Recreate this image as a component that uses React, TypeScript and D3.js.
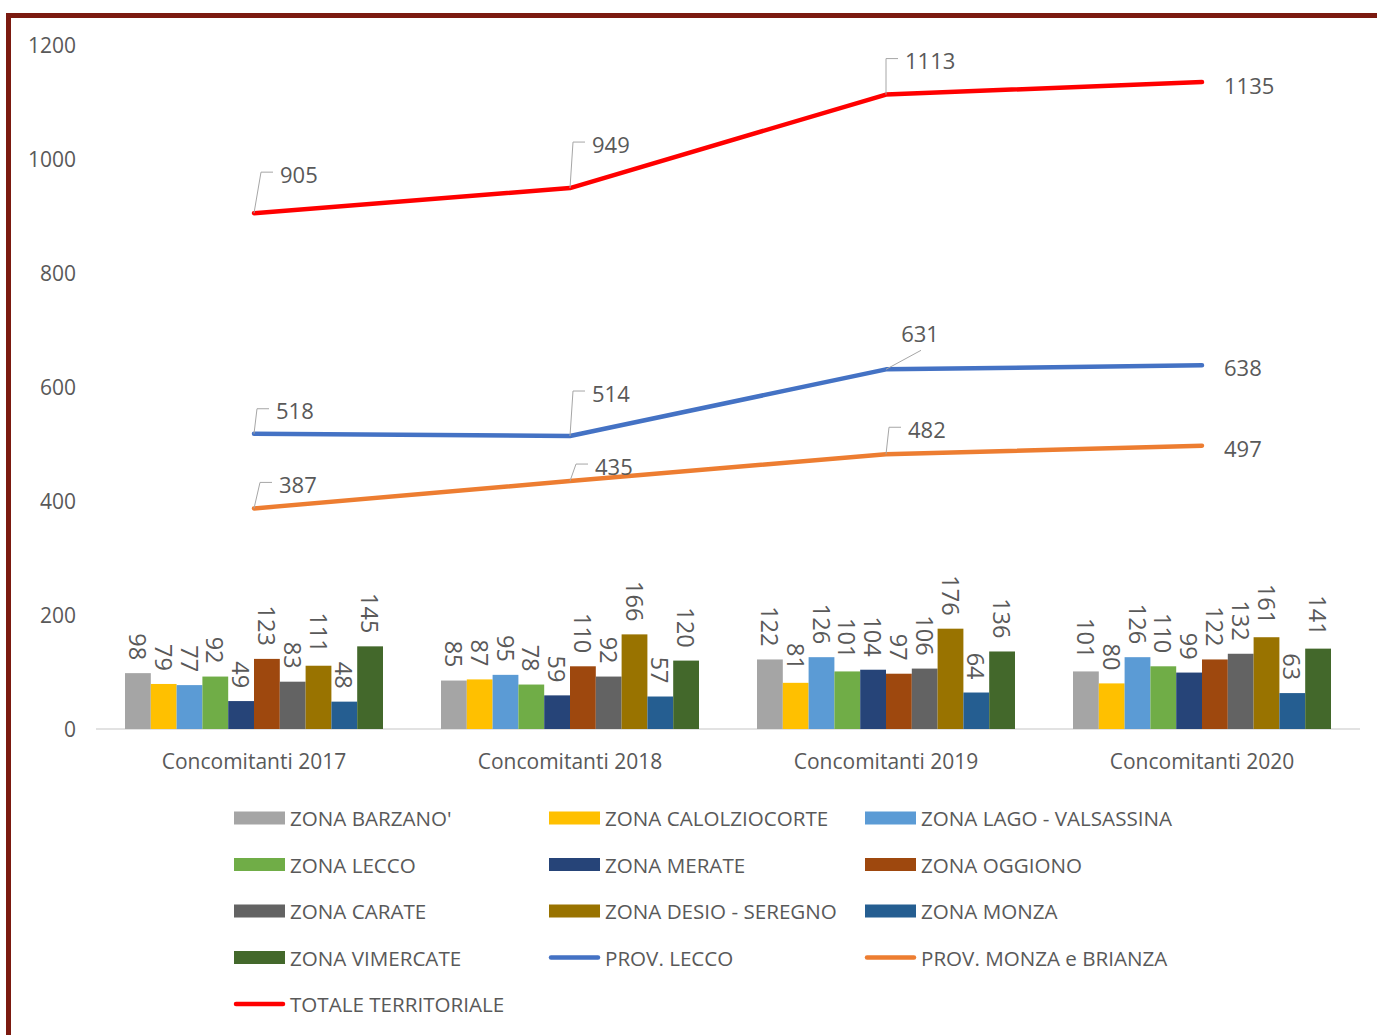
import * as d3 from "d3";

const categories = ["Concomitanti 2017", "Concomitanti 2018", "Concomitanti 2019", "Concomitanti 2020"];
const yTicks = [0, 200, 400, 600, 800, 1000, 1200];

// bar series (one array per zone)
const zonaBarzano = [98, 85, 122, 101];
const zonaCalolziocorte = [79, 87, 81, 80];
const zonaLago = [77, 95, 126, 126];
const zonaLecco = [92, 78, 101, 110];
const zonaMerate = [49, 59, 104, 99];
const zonaOggiono = [123, 110, 97, 122];
const zonaCarate = [83, 92, 106, 132];
const zonaDesio = [111, 166, 176, 161];
const zonaMonza = [48, 57, 64, 63];
const zonaVimercate = [145, 120, 136, 141];

// line series
const provLecco = [518, 514, 631, 638];
const provMonza = [387, 435, 482, 497];
const totale = [905, 949, 1113, 1135];

const zones = [
  { name: "ZONA BARZANO'", color: "#A5A5A5", values: zonaBarzano },
  { name: "ZONA CALOLZIOCORTE", color: "#FFC000", values: zonaCalolziocorte },
  { name: "ZONA LAGO - VALSASSINA", color: "#5B9BD5", values: zonaLago },
  { name: "ZONA LECCO", color: "#70AD47", values: zonaLecco },
  { name: "ZONA MERATE", color: "#264478", values: zonaMerate },
  { name: "ZONA OGGIONO", color: "#9E480E", values: zonaOggiono },
  { name: "ZONA CARATE", color: "#636363", values: zonaCarate },
  { name: "ZONA DESIO - SEREGNO", color: "#997300", values: zonaDesio },
  { name: "ZONA MONZA", color: "#255E91", values: zonaMonza },
  { name: "ZONA VIMERCATE", color: "#43682B", values: zonaVimercate },
];

// label placement per point: leader bracket (dx,dy), diagonal, or side
const lines = [
  {
    name: "PROV. LECCO", color: "#4472C4", values: provLecco,
    labels: [
      { kind: "bracket", dx: 3, dy: -25 },
      { kind: "bracket", dx: 3, dy: -45 },
      { kind: "diag", dx: 35, dy: -19 },
      { kind: "side", dx: 22, dy: 2 },
    ],
  },
  {
    name: "PROV. MONZA e BRIANZA", color: "#ED7D31", values: provMonza,
    labels: [
      { kind: "bracket", dx: 6, dy: -26 },
      { kind: "bracket", dx: 6, dy: -17 },
      { kind: "bracket", dx: 3, dy: -27 },
      { kind: "side", dx: 22, dy: 2 },
    ],
  },
  {
    name: "TOTALE TERRITORIALE", color: "#FF0000", values: totale,
    labels: [
      { kind: "bracket", dx: 7, dy: -41 },
      { kind: "bracket", dx: 3, dy: -46 },
      { kind: "bracket", dx: 0, dy: -36 },
      { kind: "side", dx: 22, dy: 3 },
    ],
  },
];

const W = 1377;
const H = 1035;
const FONT = "'Open Sans', sans-serif";
const TXT = "#595959";

export default function App() {
  const x = d3.scaleBand().domain(categories).range([96, 1360]);
  const inner = d3
    .scaleBand()
    .domain(zones.map((z) => z.name))
    .range([(x.bandwidth() - 258) / 2, (x.bandwidth() + 258) / 2]);
  const y = d3.scaleLinear().domain([0, 1200]).range([729, 45]);
  const cx = (c: string) => (x(c) ?? 0) + x.bandwidth() / 2;

  const lineGen = d3
    .line<number>()
    .x((_, i) => cx(categories[i]))
    .y((d) => y(d));

  const legendItems = [
    ...zones.map((z) => ({ name: z.name, color: z.color, type: "bar" })),
    ...lines.map((l) => ({ name: l.name, color: l.color, type: "line" })),
  ];
  const legendCols = [234, 549, 865];
  const legendRow0 = 818;
  const legendRowStep = 46.5;

  return (
    <div style={{ position: "absolute", left: 0, top: 0 }}>
      <svg width={W} height={H} style={{ display: "block", background: "#fff" }}>
        <rect x={8.5} y={15.5} width={W + 20} height={H + 20} fill="none" stroke="#7B1A10" strokeWidth={5} />

        {/* y axis labels */}
        {yTicks.map((t) => (
          <text key={t} x={76} y={y(t)} textAnchor="end" dominantBaseline="central"
            fontFamily={FONT} fontSize={21} fill={TXT}>
            {t}
          </text>
        ))}

        <line x1={96} x2={1360} y1={y(0)} y2={y(0)} stroke="#D9D9D9" strokeWidth={1.5} />

        {/* bars */}
        {categories.map((c, ci) => (
          <g key={c} transform={`translate(${x(c)},0)`}>
            {zones.map((z) => {
              const v = z.values[ci];
              const bx = inner(z.name) ?? 0;
              const bw = inner.bandwidth();
              return (
                <g key={z.name}>
                  <rect x={bx} y={y(v)} width={bw} height={y(0) - y(v)} fill={z.color} />
                  <text
                    transform={`translate(${bx + bw / 2},${y(v) - 13}) rotate(90)`}
                    textAnchor="end" dominantBaseline="central"
                    fontFamily={FONT} fontSize={23.5} fill={TXT}>
                    {v}
                  </text>
                </g>
              );
            })}
          </g>
        ))}

        {/* category labels */}
        {categories.map((c) => (
          <text key={c} x={cx(c)} y={761} textAnchor="middle" dominantBaseline="central"
            fontFamily={FONT} fontSize={21} fill={TXT}>
            {c}
          </text>
        ))}

        {/* lines */}
        {lines.map((l) => (
          <path key={l.name} d={lineGen(l.values) ?? ""} fill="none" stroke={l.color}
            strokeWidth={4.5} strokeLinejoin="round" strokeLinecap="round" />
        ))}

        {/* line labels */}
        {lines.map((l) =>
          l.values.map((v, i) => {
            const px = cx(categories[i]);
            const py = y(v);
            const lab = l.labels[i];
            if (lab.kind === "side") {
              return (
                <text key={l.name + i} x={px + lab.dx} y={py + lab.dy} dominantBaseline="central"
                  fontFamily={FONT} fontSize={22} fill={TXT}>
                  {v}
                </text>
              );
            }
            if (lab.kind === "diag") {
              return (
                <g key={l.name + i}>
                  <line x1={px} y1={py} x2={px + lab.dx} y2={py + lab.dy} stroke="#A6A6A6" strokeWidth={1} />
                  <text x={px + lab.dx - 1} y={py + lab.dy - 17} textAnchor="middle" dominantBaseline="central"
                    fontFamily={FONT} fontSize={22} fill={TXT}>
                    {v}
                  </text>
                </g>
              );
            }
            const lx = px + lab.dx;
            const ly = py + lab.dy;
            return (
              <g key={l.name + i}>
                <polyline points={`${px},${py} ${lx},${ly} ${lx + 12},${ly}`} fill="none"
                  stroke="#A6A6A6" strokeWidth={1} />
                <text x={lx + 19} y={ly + 1.5} dominantBaseline="central"
                  fontFamily={FONT} fontSize={22} fill={TXT}>
                  {v}
                </text>
              </g>
            );
          })
        )}

        {/* legend */}
        {legendItems.map((it, i) => {
          const lx = legendCols[i % 3];
          const ly = legendRow0 + Math.floor(i / 3) * legendRowStep;
          return (
            <g key={it.name}>
              {it.type === "bar" ? (
                <rect x={lx} y={ly - 6.5} width={51} height={13} fill={it.color} />
              ) : (
                <line x1={lx + 2} x2={lx + 49} y1={ly} y2={ly} stroke={it.color} strokeWidth={4.5}
                  strokeLinecap="round" />
              )}
              <text x={lx + 56} y={ly} dominantBaseline="central" fontFamily={FONT} fontSize={20.6} fill={TXT}>
                {it.name}
              </text>
            </g>
          );
        })}
      </svg>
    </div>
  );
}
